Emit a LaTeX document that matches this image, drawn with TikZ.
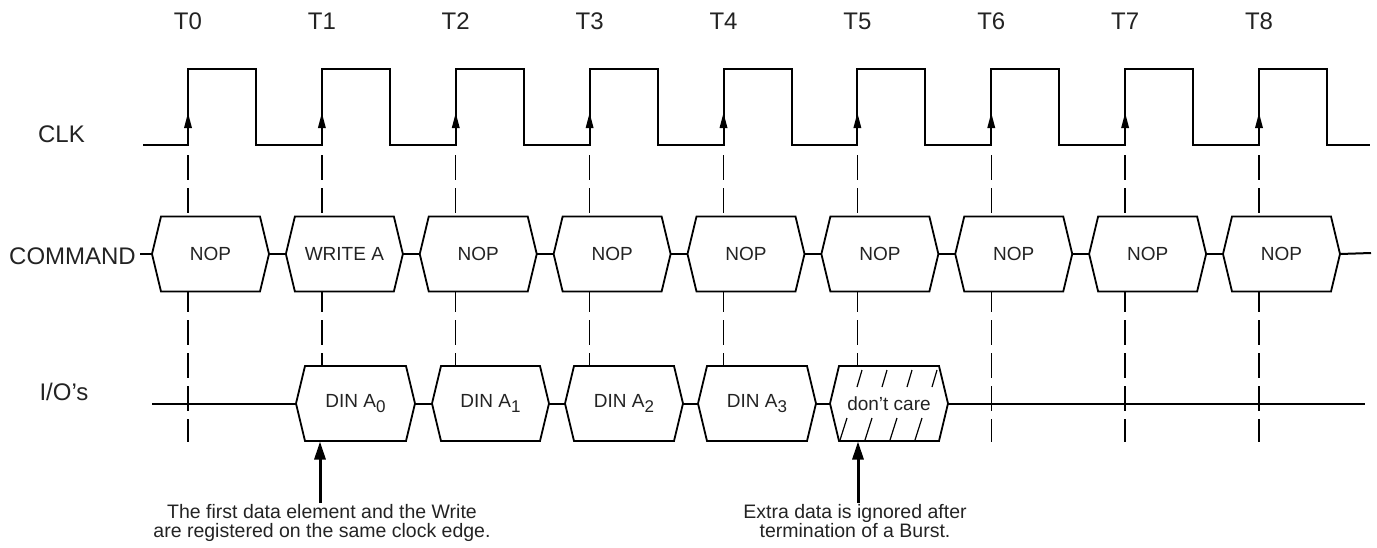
\documentclass[tikz,border=0pt]{standalone}
\usepackage{fontspec}
\setmainfont{Liberation Sans}
\usetikzlibrary{arrows.meta,calc}
\definecolor{txt}{RGB}{35,35,35}
\newcommand\dinsub[1]{\raisebox{-4.5pt}{\fontsize{17}{17}\selectfont #1}}
\newcommand\sigbox[5]{% name, left x, right x, mid y, text
  \draw[boxline] (#2,#4) coordinate (#1-w) -- ++(9,-37.5) -- ++({#3-#2-18},0)
     -- ++(9,37.5) coordinate (#1-e) -- ++(-9,37.5) -- ++({-(#3-#2-18)},0) -- cycle;
  \node[boxtext] (#1) at ({(#2+#3)/2},#4) {#5};
}
\begin{document}
\begin{tikzpicture}[x=1pt,y=-1pt,
  wave/.style={line width=2pt, line join=miter},
  boxline/.style={line width=1.8pt, fill=white, line join=miter},
  wire/.style={line width=2pt},
  gridline/.style={line width=1.3pt, dash pattern=on 25pt off 8pt},
  boxtext/.style={font=\fontsize{19}{22}\selectfont, text=txt, inner sep=0pt},
  lbl/.style={font=\fontsize{24}{28}\selectfont, text=txt, inner sep=0pt},
  note/.style={font=\fontsize{19.5}{19.5}\selectfont, align=center, text=txt, inner sep=1pt},
  callout/.style={line width=3pt, -{Triangle[length=18pt,width=11pt]}},
  hatch/.style={line width=1.2pt}]
\useasboundingbox (0,0) rectangle (1377,547);

% time labels and dashed grid lines
\foreach \k in {0,...,8}{
  \pgfmathsetmacro\tx{188+133.875*\k}
  \node[lbl] (t\k) at (\tx,21) {T\k};
  \draw[gridline] (\tx,155) -- (\tx,442);
}

% signal labels
\node[lbl] (clk) at (61.5,134) {CLK};
\node[lbl] (cmdlbl) at (72.5,256) {COMMAND};
\node[lbl] (iolbl) at (64,392) {I/O's};

% clock waveform
\draw[wave] (143,145) foreach \k in {0,...,8}{
  -- ({188+133.875*\k},145) -- ({188+133.875*\k},69)
  -- ({256+133.875*\k},69) -- ({256+133.875*\k},145) } -- (1370,145);
\foreach \k in {0,...,8}{
  \pgfmathsetmacro\tx{188+133.875*\k}
  \fill (\tx-4,128) -- (\tx,113) -- (\tx+4,128) -- cycle;
}

% command bus
\foreach \k/\txt in {0/NOP,1/WRITE A,2/NOP,3/NOP,4/NOP,5/NOP,6/NOP,7/NOP,8/NOP}{
  \pgfmathsetmacro\lx{188+133.875*\k-36}
  \pgfmathsetmacro\rx{188+133.875*\k+81}
  \sigbox{cmd\k}{\lx}{\rx}{254}{\txt}
}
\coordinate (cmdstart) at (140,254);
\coordinate (cmdend) at (1371,253);
\draw[wire] (cmdstart) -- (cmd0-w);
\foreach \k [evaluate=\k as \n using int(\k+1)] in {0,...,7}
  \draw[wire] (cmd\k-e) -- (cmd\n-w);
\draw[wire] (cmd8-e) -- (cmdend);

% I/O bus
\sigbox{io0}{296}{415}{403.5}{DIN A\dinsub{0}}
\sigbox{io1}{432}{549}{403.5}{DIN A\dinsub{1}}
\sigbox{io2}{565}{683}{403.5}{DIN A\dinsub{2}}
\sigbox{io3}{698}{816}{403.5}{DIN A\dinsub{3}}
\sigbox{io4}{830}{948}{403.5}{don't care}
\coordinate (iostart) at (152,403.5);
\coordinate (ioend) at (1365,403.5);
\draw[wire] (iostart) -- (io0-w);
\foreach \k [evaluate=\k as \n using int(\k+1)] in {0,...,3}
  \draw[wire] (io\k-e) -- (io\n-w);
\draw[wire] (io4-e) -- (ioend);

% hatching of the don't care slot
\foreach \i in {0,...,3}{
  \draw[hatch] (857+25*\i,387) -- (862+25*\i,370);
  \draw[hatch] (840+25*\i,440) -- (847+25*\i,418);
}

% annotations
\node[note, anchor=north] (note1) at (322,503)
  {The first data element and the Write\\are registered on the same clock edge.};
\node[note, anchor=north] (note2) at (855,503)
  {Extra data is ignored after\\termination of a Burst.};
\coordinate (tip1) at (320,441.5);
\coordinate (tip2) at (858,441.5);
\draw[callout] (tip1 |- note1.north) -- (tip1);
\draw[callout] (tip2 |- note2.north) -- (tip2);
\end{tikzpicture}
\end{document}
